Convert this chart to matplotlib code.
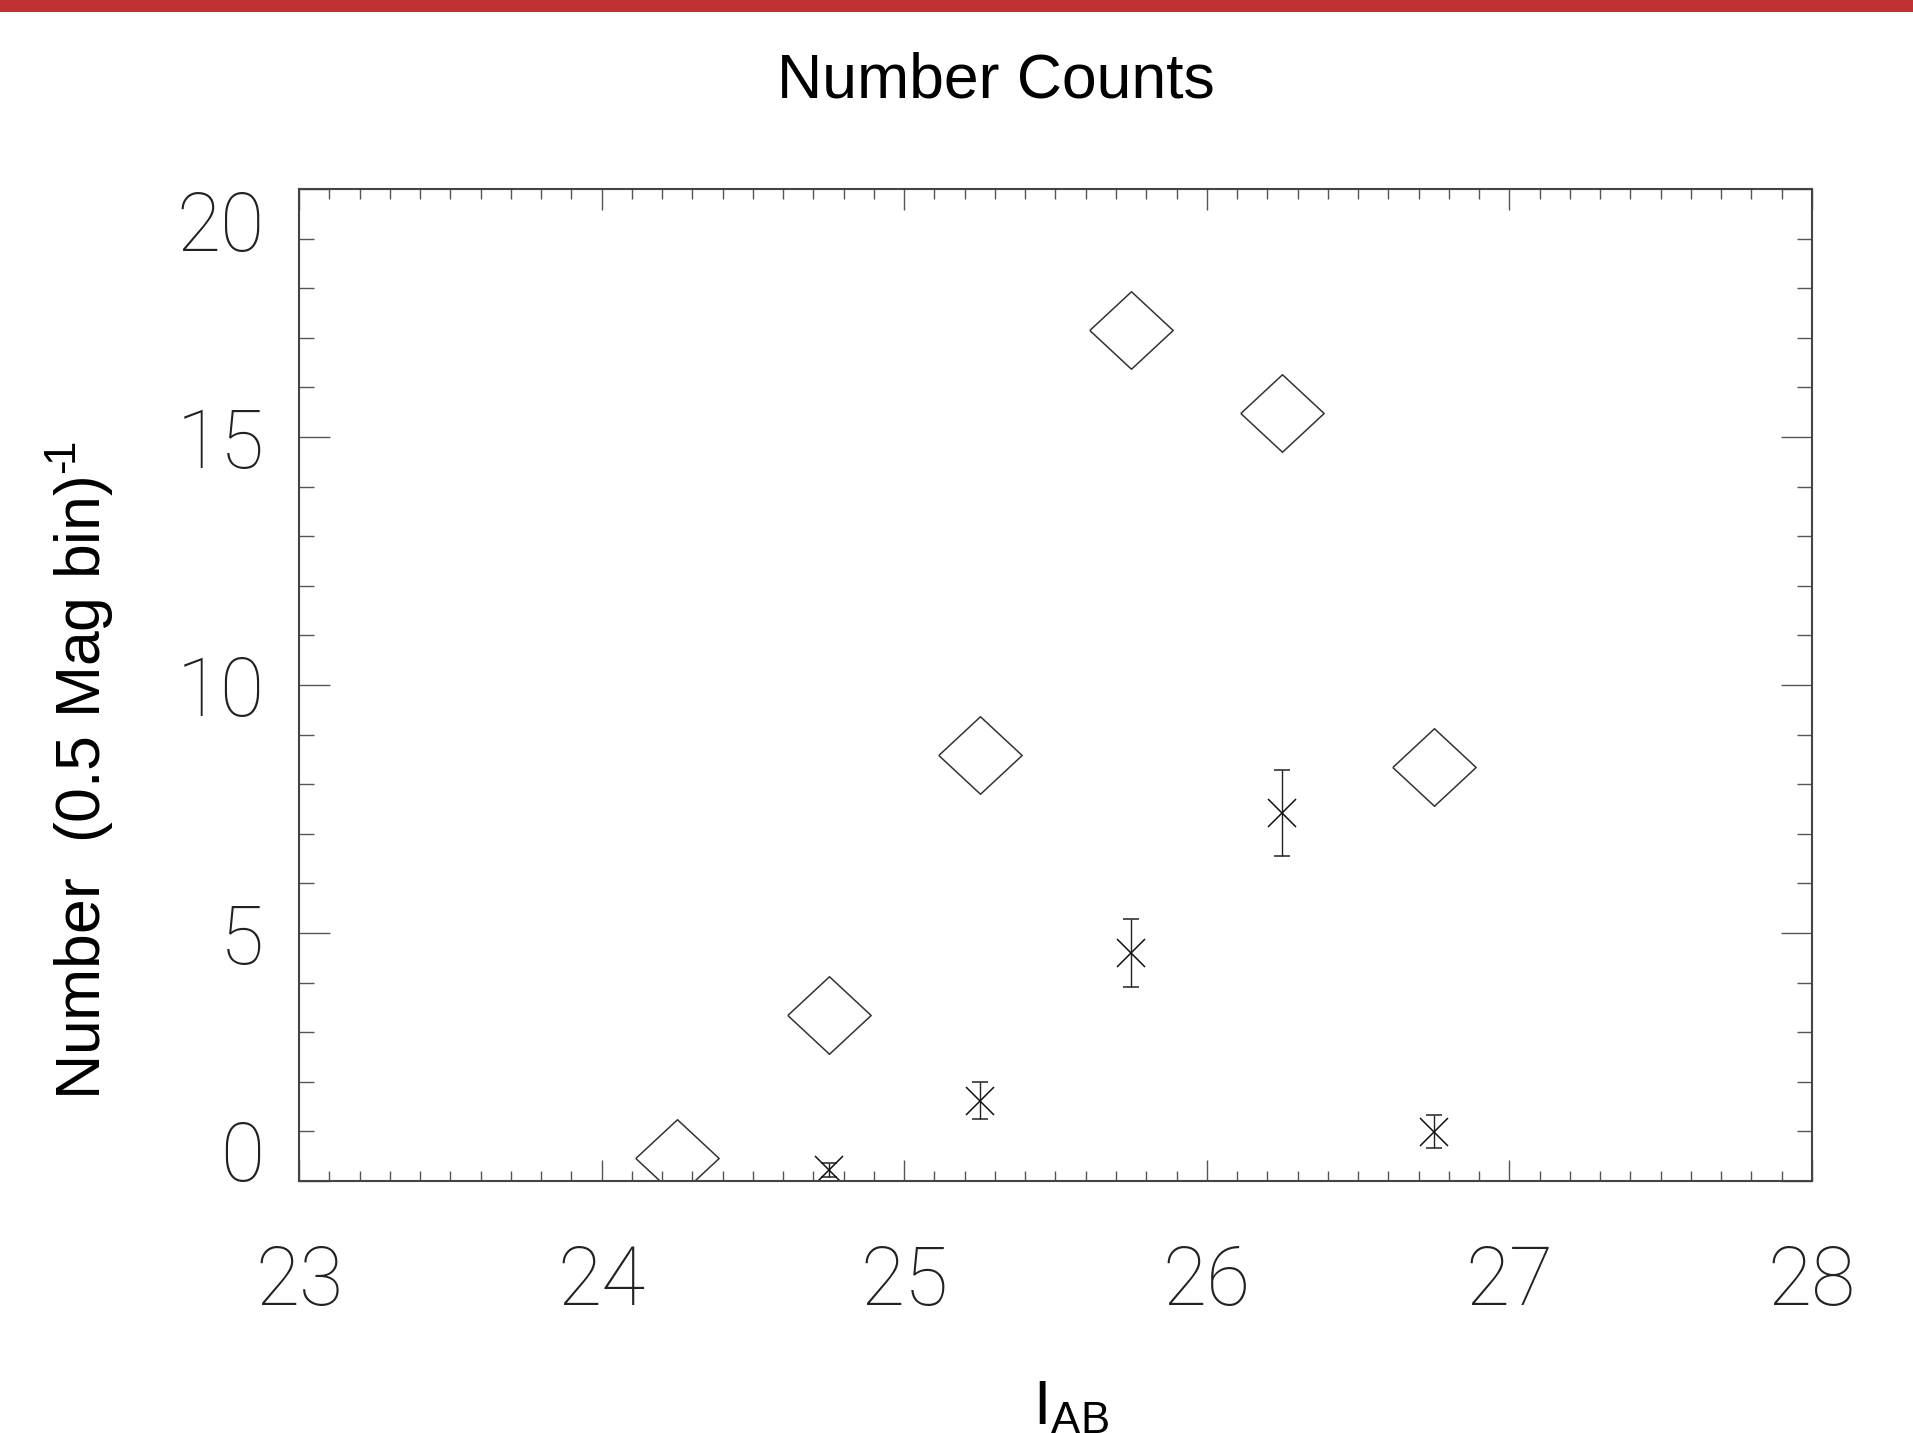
import numpy as np
import matplotlib
matplotlib.use("Agg")
import matplotlib.pyplot as plt
from matplotlib.ticker import MultipleLocator
from matplotlib.patches import Rectangle

plt.rcParams['font.family'] = ['Liberation Sans', 'DejaVu Sans']
plt.rcParams['mathtext.fontset'] = 'custom'
plt.rcParams['mathtext.rm'] = 'Liberation Sans'
plt.rcParams['mathtext.it'] = 'Liberation Sans'

# magnitude bins
mag_bins = [24.25, 24.75, 25.25, 25.75, 26.25, 26.75]
# diamonds
counts_all = [0.47, 3.35, 8.59, 17.16, 15.49, 8.34]
# crosses with error bars
mag_sel = [24.75, 25.25, 25.75, 26.25, 26.75]
counts_sel = [0.22, 1.62, 4.60, 7.42, 0.99]
err_sel = [0.15, 0.38, 0.69, 0.86, 0.33]

x_ticks = [23, 24, 25, 26, 27, 28]
y_ticks = [0, 5, 10, 15, 20]

fig = plt.figure(figsize=(19.13, 14.33), dpi=100)
ax = fig.add_axes([0.1563, 0.1759, 0.7909, 0.6922])

# red bar across the top
fig.patches.append(Rectangle((0, 1 - 12 / 1433), 1, 12 / 1433, transform=fig.transFigure,
                             facecolor='#c03232', edgecolor='none'))

diamond = [(-1, 0), (0, 0.93), (1, 0), (0, -0.93), (-1, 0)]
ax.plot(mag_bins, counts_all, linestyle='none', marker=diamond, ms=60,
        mfc='none', mec='#333333', mew=1.1)
ax.errorbar(mag_sel, counts_sel, yerr=err_sel, fmt='x', ms=20, mew=1.1, color='#111111',
            ecolor='#222222', elinewidth=1.0, capsize=5.5, capthick=1.0)

ax.set_xlim(23, 28)
ax.set_ylim(0, 20)
ax.set_xticks(x_ticks)
ax.set_yticks(y_ticks)
ax.xaxis.set_minor_locator(MultipleLocator(0.1))
ax.yaxis.set_minor_locator(MultipleLocator(1))

tick_font = {'family': ['Roboto', 'DejaVu Sans'], 'weight': 100, 'size': 58}
ax.set_xticklabels([str(v) for v in x_ticks], fontdict=tick_font, color='#222222')
ax.set_yticklabels([str(v) for v in y_ticks], fontdict=tick_font, color='#222222')

ax.tick_params(which='both', direction='in', top=True, right=True, color='#555555', width=1.0)
ax.tick_params(axis='x', which='major', length=15, pad=45)
ax.tick_params(axis='x', which='minor', length=7)
ax.tick_params(axis='y', which='major', length=22, pad=25)
ax.tick_params(axis='y', which='minor', length=11)

# IDL-style: end labels tucked inside the axis range
yt = ax.yaxis.get_major_ticks()
yt[0].label1.set_verticalalignment('baseline')
yt[-1].label1.set_verticalalignment('top')

for s in ax.spines.values():
    s.set_color('#444444')
    s.set_linewidth(1.5)

fig.text(996 / 1913, 1 - 98 / 1433, 'Number Counts', ha='center', va='baseline', fontsize=45)
fig.text(0.042, 0.462, 'Number  (0.5 Mag bin)$^{\u2010\\!1}$', rotation=90, ha='center',
         va='center', fontsize=45)
fig.text(1033 / 1913, 1 - 1424 / 1433, r'I$_{\mathrm{AB}}$', ha='left', va='baseline', fontsize=45)

fig.savefig('out.png', dpi=100)
